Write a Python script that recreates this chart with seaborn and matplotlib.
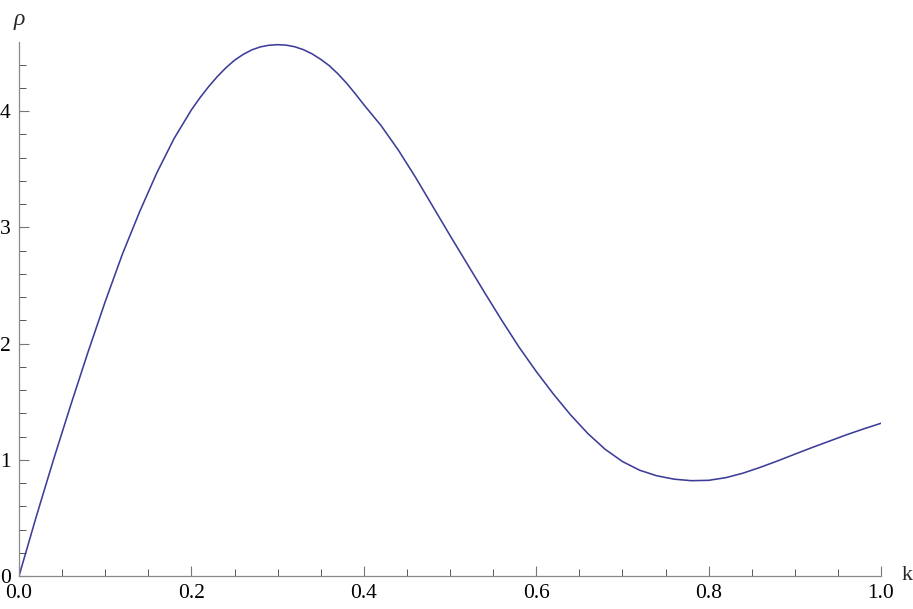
import numpy as np
import pandas as pd
import matplotlib
matplotlib.use("Agg")
import matplotlib.pyplot as plt
from matplotlib.ticker import MultipleLocator, FixedLocator, FixedFormatter
import seaborn as sns

k_values = [0.00, 0.02, 0.04, 0.06, 0.08, 0.10, 0.12, 0.14, 0.16, 0.18,
            0.20, 0.21, 0.22, 0.23, 0.24, 0.25, 0.26, 0.27, 0.28, 0.29,
            0.30, 0.31, 0.32, 0.33, 0.34, 0.35, 0.36, 0.37, 0.38, 0.39,
            0.40, 0.42, 0.44, 0.46, 0.48, 0.50, 0.52, 0.54, 0.56, 0.58,
            0.60, 0.62, 0.64, 0.66, 0.68, 0.70, 0.72, 0.74, 0.76, 0.78,
            0.80, 0.82, 0.84, 0.86, 0.88, 0.90, 0.92, 0.94, 0.96, 0.98, 1.00]
rho_values = [0.000, 0.510, 1.000, 1.470, 1.925, 2.360, 2.770, 3.135, 3.470, 3.765,
              4.010, 4.115, 4.210, 4.296, 4.372, 4.437, 4.487, 4.526, 4.552, 4.566,
              4.571, 4.567, 4.553, 4.528, 4.492, 4.445, 4.390, 4.320, 4.240, 4.150,
              4.055, 3.875, 3.665, 3.430, 3.180, 2.930, 2.685, 2.440, 2.200, 1.970,
              1.760, 1.565, 1.385, 1.225, 1.090, 0.985, 0.910, 0.862, 0.833, 0.820,
              0.823, 0.846, 0.885, 0.935, 0.990, 1.048, 1.105, 1.160, 1.215, 1.266, 1.314]

x_major_ticks = [0.0, 0.2, 0.4, 0.6, 0.8, 1.0]
x_tick_labels = ["0.0", "0.2", "0.4", "0.6", "0.8", "1.0"]
y_major_ticks = [0, 1, 2, 3, 4]
y_tick_labels = ["0", "1", "2", "3", "4"]
x_label = "k"
y_label = "ρ"

df = pd.DataFrame({"k": k_values, "rho": rho_values})

sns.set_style("white")
plt.rcParams["font.family"] = ["Liberation Serif", "DejaVu Serif"]

fig = plt.figure(figsize=(9.13, 6.09), dpi=100)
ax = fig.add_axes([19 / 913, 33 / 609, 862 / 913, 534 / 609])

sns.lineplot(data=df, x="k", y="rho", ax=ax, color="#3d3d99", linewidth=1.15)

ax.set_xlim(0, 1.0)
ax.set_ylim(0, 4.594)

for s in ["top", "right"]:
    ax.spines[s].set_visible(False)
for s in ["left", "bottom"]:
    ax.spines[s].set_color("#8a8a8a")
    ax.spines[s].set_linewidth(0.9)

ax.xaxis.set_major_locator(FixedLocator(x_major_ticks))
ax.xaxis.set_major_formatter(FixedFormatter(x_tick_labels))
ax.xaxis.set_minor_locator(MultipleLocator(0.05))
ax.yaxis.set_major_locator(FixedLocator(y_major_ticks))
ax.yaxis.set_major_formatter(FixedFormatter(y_tick_labels))
ax.yaxis.set_minor_locator(MultipleLocator(0.2))

ax.tick_params(which="both", bottom=True, left=True, top=False, right=False)
ax.tick_params(which="major", direction="in", length=7.5, width=0.8,
               color="#777777", labelsize=15.5, labelcolor="black", pad=6)
ax.tick_params(which="minor", direction="in", length=5, width=0.7,
               color="#555555")

ax.set_xlabel("")
ax.set_ylabel("")
fig.text(19 / 913, 1 - 19 / 609, y_label, fontsize=17, style="italic",
         ha="center", va="center")
fig.text(907 / 913, 1 - 575 / 609, x_label, fontsize=16,
         ha="center", va="center")

fig.savefig("out.png", dpi=100)
